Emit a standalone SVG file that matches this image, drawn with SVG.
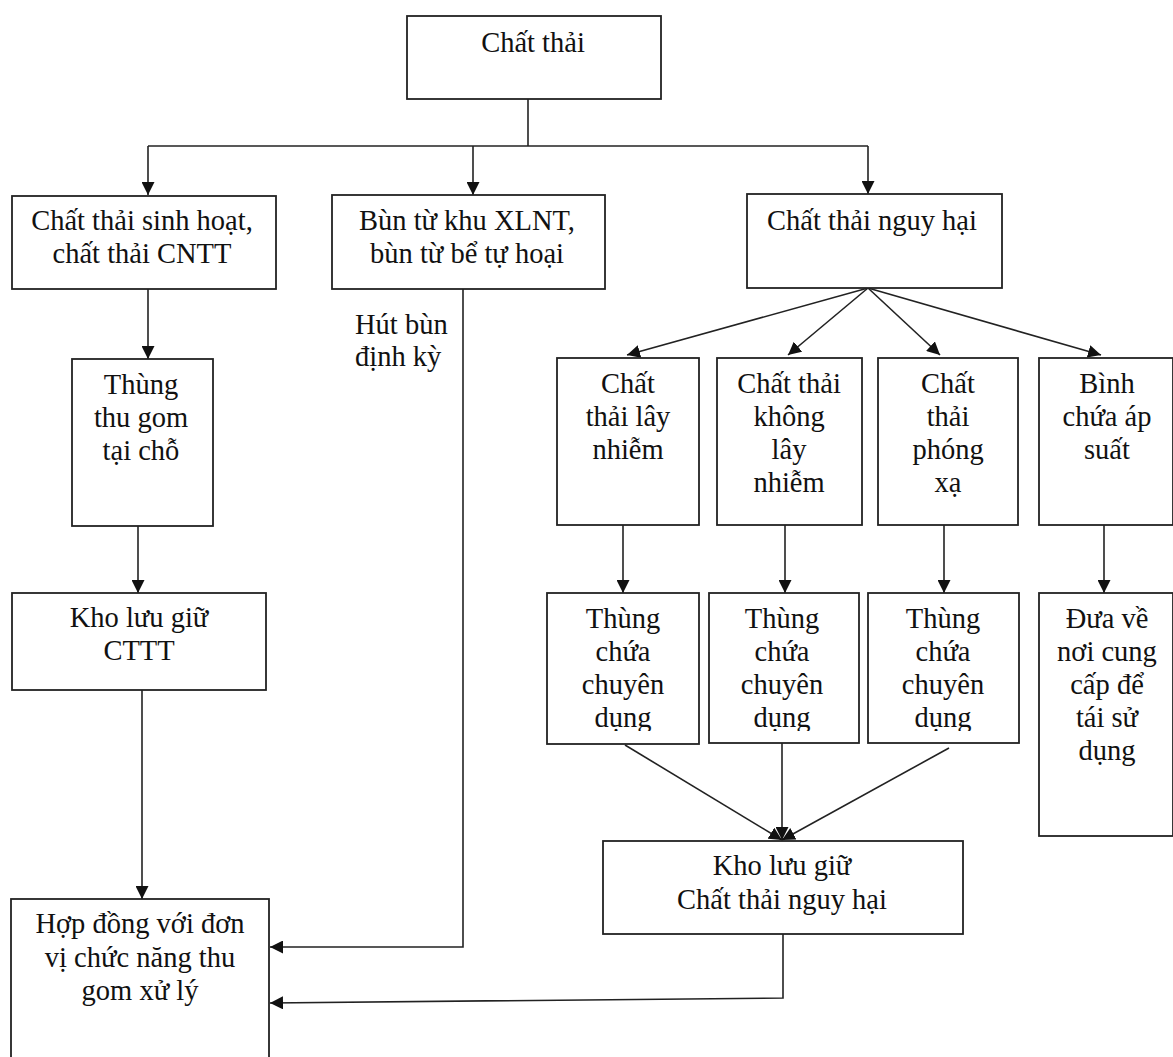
<svg xmlns="http://www.w3.org/2000/svg" width="1173" height="1057" viewBox="0 0 1173 1057">
<style>
.box{fill:#fff;stroke:#222;stroke-width:1.8}
.t{font-family:"Liberation Serif","Times New Roman",serif;font-size:28.5px;fill:#111;text-anchor:middle}
.tl{font-family:"Liberation Serif","Times New Roman",serif;font-size:28.5px;fill:#111}
.c{fill:none;stroke:#222;stroke-width:1.6}
</style>
<defs>
<marker id="ah" markerUnits="userSpaceOnUse" markerWidth="13" markerHeight="13" refX="13" refY="6.5" orient="auto">
<path d="M0,0 L13,6.5 L0,13 z" fill="#111"/>
</marker>
<clipPath id="clipT"><rect x="0" y="0" width="1173" height="731"/></clipPath>
</defs>
<rect width="1173" height="1057" fill="#fff"/>

<g id="connectors">
<path class="c" d="M528,99 V146"/>
<path class="c" d="M148,146 H868"/>
<path class="c" d="M148,146 V195" marker-end="url(#ah)"/>
<path class="c" d="M473,146 V195" marker-end="url(#ah)"/>
<path class="c" d="M868,146 V194" marker-end="url(#ah)"/>
<path class="c" d="M868,288 L627,355" marker-end="url(#ah)"/>
<path class="c" d="M868,288 L788,355" marker-end="url(#ah)"/>
<path class="c" d="M868,288 L940,355" marker-end="url(#ah)"/>
<path class="c" d="M868,288 L1101,355" marker-end="url(#ah)"/>
<path class="c" d="M148,289 V359" marker-end="url(#ah)"/>
<path class="c" d="M138,526 V593" marker-end="url(#ah)"/>
<path class="c" d="M142,690 V899" marker-end="url(#ah)"/>
<path class="c" d="M463,289 V947 H270" marker-end="url(#ah)"/>
<path class="c" d="M623,525 V593" marker-end="url(#ah)"/>
<path class="c" d="M785,525 V593" marker-end="url(#ah)"/>
<path class="c" d="M944,525 V593" marker-end="url(#ah)"/>
<path class="c" d="M1104,525 V593" marker-end="url(#ah)"/>
<path class="c" d="M625,745 L782,840" marker-end="url(#ah)"/>
<path class="c" d="M782,743 V840" marker-end="url(#ah)"/>
<path class="c" d="M949,748 L782,840" marker-end="url(#ah)"/>
<path class="c" d="M783,934 V998 L270,1003" marker-end="url(#ah)"/>
</g>

<g id="n-chatthai">
<rect class="box" x="407" y="16" width="254" height="83"/>
<text class="t" x="533" y="52">Chất thải</text>
</g>

<g id="n-sinhhoat">
<rect class="box" x="12" y="196" width="264" height="93"/>
<text class="t" x="142" y="230">Chất thải sinh hoạt,</text>
<text class="t" x="142" y="263">chất thải CNTT</text>
</g>

<g id="n-bun">
<rect class="box" x="332" y="195" width="273" height="94"/>
<text class="t" x="467" y="230">Bùn từ khu XLNT,</text>
<text class="t" x="467" y="263">bùn từ bể tự hoại</text>
</g>

<g id="n-nguyhai">
<rect class="box" x="747" y="194" width="255" height="94"/>
<text class="t" x="872" y="230">Chất thải nguy hại</text>
</g>

<g id="n-hutbun">
<text class="tl" x="355" y="334">Hút bùn</text>
<text class="tl" x="355" y="366">định kỳ</text>
</g>

<g id="n-thungthugom">
<rect class="box" x="72" y="359" width="141" height="167"/>
<text class="t" x="141" y="394">Thùng</text>
<text class="t" x="141" y="427">thu gom</text>
<text class="t" x="141" y="460">tại chỗ</text>
</g>

<g id="n-laynhiem">
<rect class="box" x="557" y="358" width="142" height="167"/>
<text class="t" x="628" y="393">Chất</text>
<text class="t" x="628" y="426">thải lây</text>
<text class="t" x="628" y="459">nhiễm</text>
</g>

<g id="n-khonglaynhiem">
<rect class="box" x="717" y="358" width="145" height="167"/>
<text class="t" x="789" y="393">Chất thải</text>
<text class="t" x="789" y="426">không</text>
<text class="t" x="789" y="459">lây</text>
<text class="t" x="789" y="492">nhiễm</text>
</g>

<g id="n-phongxa">
<rect class="box" x="878" y="358" width="140" height="167"/>
<text class="t" x="948" y="393">Chất</text>
<text class="t" x="948" y="426">thải</text>
<text class="t" x="948" y="459">phóng</text>
<text class="t" x="948" y="492">xạ</text>
</g>

<g id="n-binhchua">
<rect class="box" x="1039" y="358" width="134" height="167"/>
<text class="t" x="1107" y="393">Bình</text>
<text class="t" x="1107" y="426">chứa áp</text>
<text class="t" x="1107" y="459">suất</text>
</g>

<g id="n-khocttt">
<rect class="box" x="12" y="593" width="254" height="97"/>
<text class="t" x="139" y="627">Kho lưu giữ</text>
<text class="t" x="139" y="660">CTTT</text>
</g>

<g id="n-thung1">
<rect class="box" x="547" y="593" width="152" height="151"/>
<g clip-path="url(#clipT)">
<text class="t" x="623" y="628">Thùng</text>
<text class="t" x="623" y="661">chứa</text>
<text class="t" x="623" y="694">chuyên</text>
<text class="t" x="623" y="727">dụng</text>
</g>
</g>

<g id="n-thung2">
<rect class="box" x="709" y="593" width="150" height="150"/>
<g clip-path="url(#clipT)">
<text class="t" x="782" y="628">Thùng</text>
<text class="t" x="782" y="661">chứa</text>
<text class="t" x="782" y="694">chuyên</text>
<text class="t" x="782" y="727">dụng</text>
</g>
</g>

<g id="n-thung3">
<rect class="box" x="868" y="593" width="151" height="150"/>
<g clip-path="url(#clipT)">
<text class="t" x="943" y="628">Thùng</text>
<text class="t" x="943" y="661">chứa</text>
<text class="t" x="943" y="694">chuyên</text>
<text class="t" x="943" y="727">dụng</text>
</g>
</g>

<g id="n-duave">
<rect class="box" x="1039" y="593" width="134" height="243"/>
<text class="t" x="1107" y="628">Đưa về</text>
<text class="t" x="1107" y="661">nơi cung</text>
<text class="t" x="1107" y="694">cấp để</text>
<text class="t" x="1107" y="727">tái sử</text>
<text class="t" x="1107" y="760">dụng</text>
</g>

<g id="n-khoctnh">
<rect class="box" x="603" y="841" width="360" height="93"/>
<text class="t" x="782" y="875">Kho lưu giữ</text>
<text class="t" x="782" y="909">Chất thải nguy hại</text>
</g>

<g id="n-hopdong">
<rect class="box" x="11" y="899" width="258" height="170"/>
<text class="t" x="140" y="933">Hợp đồng với đơn</text>
<text class="t" x="140" y="967">vị chức năng thu</text>
<text class="t" x="140" y="1000">gom xử lý</text>
</g>
</svg>
